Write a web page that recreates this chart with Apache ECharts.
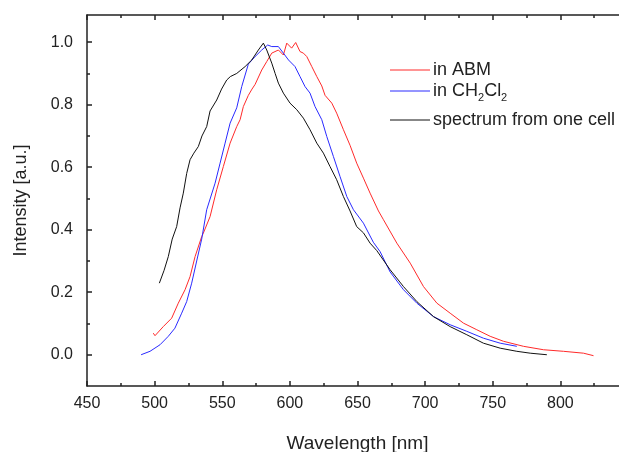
<!DOCTYPE html>
<html>
<head>
<meta charset="utf-8">
<title>Emission spectra</title>
<script src="https://cdn.jsdelivr.net/npm/echarts@6.0.0/dist/echarts.min.js"></script>
<style>
	html, body { margin: 0; padding: 0; background: #fff; }
	#chart { width: 619px; height: 452px; }
</style>
</head>
<body>
<div id="chart"></div>
<script>
	// [wavelength nm, intensity a.u.]
	var abmSpectrum = [
		[499,0.069],[500.3,0.061],[506.4,0.09],[512.6,0.117],[517.5,0.165],[522.5,0.208],[526.2,0.25],
		[529.9,0.314],[534.8,0.378],[536,0.389],[541,0.442],[545.9,0.528],[550.8,0.602],[555.8,0.677],
		[560.7,0.73],[563.2,0.752],[565.6,0.794],[569.3,0.83],[572,0.85],[574.3,0.865],[579.2,0.911],
		[582.9,0.938],[586.6,0.965],[591.5,0.975],[595.2,0.959],[597.7,0.997],[601.3,0.981],[604.3,0.999],
		[607.5,0.97],[610,0.965],[612.5,0.954],[616.2,0.922],[619.9,0.89],[623.6,0.86],[626,0.83],
		[631,0.805],[634.6,0.773],[639.6,0.72],[644.5,0.67],[649.4,0.613],[654.4,0.565],[659.3,0.517],
		[665.5,0.46],[669.2,0.432],[679.1,0.357],[689,0.293],[698.8,0.218],[708.7,0.165],[718.5,0.133],
		[728.4,0.101],[738.2,0.08],[748.1,0.059],[758,0.043],[772.7,0.027],[787.5,0.016],[802.3,0.011],
		[817.1,0.005],[824.5,-0.003]
	];
	var ch2cl2Spectrum = [
		[490,0],[496.6,0.011],[504,0.032],[510.1,0.059],[515,0.085],[520,0.133],[523.7,0.17],[527.4,0.229],
		[531.1,0.3],[534.8,0.37],[538.5,0.464],[544.7,0.549],[548.4,0.613],[552.1,0.677],[555.8,0.741],
		[560.7,0.79],[564.4,0.858],[569.3,0.93],[574.3,0.954],[579.2,0.975],[583.6,0.991],[586.6,0.986],
		[591.5,0.986],[595.2,0.965],[599,0.943],[603.8,0.922],[607.5,0.89],[611.2,0.858],[614.9,0.837],
		[618.6,0.794],[623.6,0.752],[627.3,0.698],[632.2,0.634],[637.1,0.57],[642.1,0.506],[647,0.464],
		[654.4,0.421],[661.7,0.36],[666.7,0.33],[674.1,0.265],[684,0.208],[693.9,0.165],[706.2,0.122],
		[718.5,0.096],[730.8,0.075],[743.1,0.053],[755.5,0.037],[767.8,0.027]
	];
	var cellSpectrum = [
		[503.5,0.229],[507,0.27],[510.1,0.314],[513,0.37],[516.3,0.41],[518.8,0.47],[521.2,0.517],
		[523.7,0.58],[526.2,0.624],[529,0.645],[532.3,0.666],[535,0.7],[538.5,0.73],[541,0.78],
		[545.9,0.815],[549.5,0.85],[553.3,0.879],[556,0.89],[560.7,0.9],[566.9,0.922],[571.8,0.943],
		[576.7,0.975],[580.4,0.997],[582.9,0.975],[586.6,0.933],[589.1,0.9],[591.5,0.869],[595.2,0.837],
		[600.1,0.805],[605.1,0.784],[610,0.757],[614.9,0.72],[619.9,0.677],[624.8,0.645],[629.7,0.602],
		[634.6,0.56],[639.6,0.506],[644.5,0.46],[649.4,0.41],[654.4,0.39],[659.3,0.357],[664.3,0.333],
		[674.1,0.272],[684,0.218],[693.9,0.17],[706.2,0.122],[718.5,0.09],[730.8,0.064],[743.1,0.037],
		[755.5,0.021],[767.8,0.011],[777.7,0.005],[790,0]
	];

	var seriesNames = ["in ABM", "in CH2Cl2", "spectrum from one cell"];
	var seriesColors = ["#ff2a2a", "#2a2aff", "#111111"];

	var yMajorTicks = [0, 0.2, 0.4, 0.6, 0.8, 1.0];
	var yMinorTicks = [0.1, 0.3, 0.5, 0.7, 0.9];

	var FONT = "Liberation Sans";
	var INK = "#222";

	var lineSeries = function(name, data, color)
	{
		return {
			name: name,
			type: "line",
			data: data,
			showSymbol: false,
			symbol: "none",
			smooth: false,
			lineStyle: { color: color, width: 1 },
			itemStyle: { color: color },
			silent: true
		};
	};

	var legendRow = function(y, color, text, rich)
	{
		return [
			{
				type: "line",
				shape: { x1: 390, y1: y, x2: 430, y2: y },
				style: { stroke: color, lineWidth: 1 }
			},
			{
				type: "text",
				x: 433,
				y: y,
				style: {
					text: text,
					fill: INK,
					font: "18px '" + FONT + "'",
					verticalAlign: "middle",
					rich: rich
				}
			}
		];
	};

	var subRich = {
		n: { fontSize: 18, fontFamily: FONT, color: INK },
		s: { fontSize: 11, fontFamily: FONT, color: INK, padding: [14, 0, 0, 0] }
	};

	var chart = echarts.init(document.getElementById("chart"), null, { renderer: "canvas" });

	var option =
	{
		animation: false,
		backgroundColor: "#fff",
		textStyle: { fontFamily: FONT },
		grid: { left: 87, top: 15, right: -9, bottom: 66, containLabel: false, outerBoundsMode: "none" },
		xAxis: [
			{
				type: "value",
				position: "bottom",
				min: 450,
				max: 850,
				interval: 50,
				name: "Wavelength [nm]",
				nameLocation: "middle",
				nameGap: 48,
				nameTextStyle: { fontSize: 19, color: INK, fontFamily: FONT },
				axisLine: { show: true, onZero: false, lineStyle: { color: INK, width: 1.5 } },
				axisTick: { show: true, inside: true, length: 5, lineStyle: { color: INK, width: 1.5 } },
				minorTick: { show: true, splitNumber: 2, length: 3, lineStyle: { color: INK, width: 1.5 } },
				axisLabel: {
					fontSize: 16, color: INK, fontFamily: FONT, margin: 10,
					formatter: function(v) { return v > 800 ? "" : String(v); }
				},
				splitLine: { show: false }
			},
			{
				type: "value",
				position: "top",
				min: 450,
				max: 850,
				interval: 50,
				axisLine: { show: true, onZero: false, lineStyle: { color: INK, width: 1.5 } },
				axisTick: { show: true, inside: true, length: 5, lineStyle: { color: INK, width: 1.5 } },
				minorTick: { show: true, splitNumber: 2, length: 3, lineStyle: { color: INK, width: 1.5 } },
				axisLabel: { show: false },
				splitLine: { show: false }
			}
		],
		yAxis: [
			{
				type: "value",
				position: "left",
				min: -0.1,
				max: 1.087,
				name: "Intensity [a.u.]",
				nameLocation: "middle",
				nameGap: 57,
				nameRotate: 90,
				nameTextStyle: { fontSize: 18, color: INK, fontFamily: FONT },
				axisLine: { show: true, onZero: false, lineStyle: { color: INK, width: 1.5 } },
				axisTick: { show: true, inside: true, length: 5, customValues: yMajorTicks, lineStyle: { color: INK, width: 1.5 } },
				axisLabel: {
					fontSize: 16, color: INK, fontFamily: FONT, margin: 14,
					customValues: yMajorTicks,
					formatter: function(v) { return v.toFixed(1); }
				},
				splitLine: { show: false }
			},
			{
				type: "value",
				position: "left",
				min: -0.1,
				max: 1.087,
				axisLine: { show: false },
				axisTick: { show: true, inside: true, length: 3, customValues: yMinorTicks, lineStyle: { color: INK, width: 1.5 } },
				axisLabel: { show: false },
				splitLine: { show: false }
			}
		],
		series: [
			lineSeries(seriesNames[0], abmSpectrum, seriesColors[0]),
			lineSeries(seriesNames[1], ch2cl2Spectrum, seriesColors[1]),
			lineSeries(seriesNames[2], cellSpectrum, seriesColors[2])
		],
		graphic: [].concat(
			legendRow(70, seriesColors[0], seriesNames[0]),
			legendRow(91, seriesColors[1], "{n|in CH}{s|2}{n|Cl}{s|2}", subRich),
			legendRow(120, seriesColors[2], seriesNames[2])
		)
	};

	chart.setOption(option);
</script>
</body>
</html>
